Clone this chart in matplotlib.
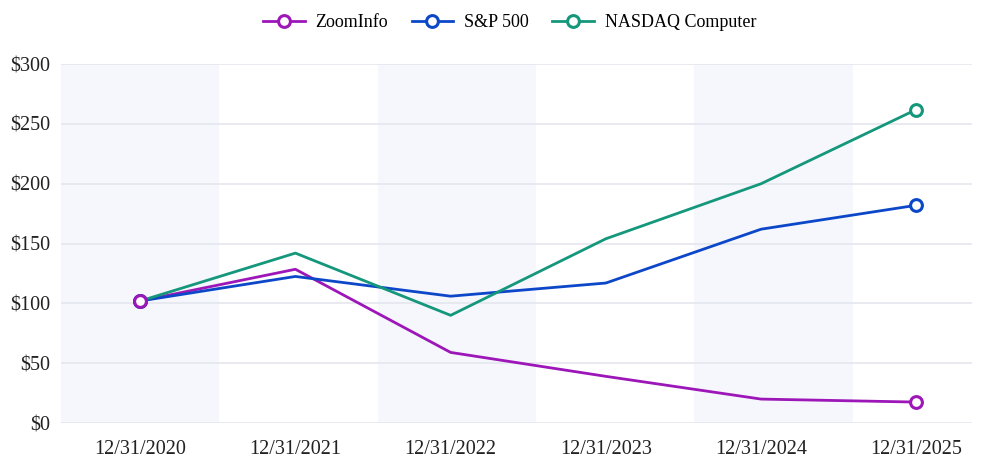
import matplotlib.pyplot as plt
from matplotlib.lines import Line2D

plt.rcParams['font.family'] = ['Liberation Serif', 'DejaVu Serif']

dates = ["12/31/2020", "12/31/2021", "12/31/2022", "12/31/2023", "12/31/2024", "12/31/2025"]
zoominfo = [102, 128.5, 59, 39, 20, 17.5]
sp500 = [102, 122.5, 106, 117, 162, 182]
nasdaq = [102, 142, 90, 154, 200, 262]
yticks = [0, 50, 100, 150, 200, 250, 300]

series = [("ZoomInfo", zoominfo, "#9C16B8"),
          ("S&P 500", sp500, "#0C47C8"),
          ("NASDAQ Computer", nasdaq, "#14977B")]

fig = plt.figure(figsize=(9.84, 4.61), dpi=100)
ax = fig.add_axes([0.062, 0.0824, 0.926, 0.7786])

x = list(range(len(dates)))
step = 1.02
for k in range(0, len(dates), 2):
    ax.axvspan(-0.51 + k * step, -0.51 + (k + 1) * step, color="#F6F7FC", lw=0, zorder=0)

for yv in yticks:
    ax.axhline(yv, color="#E6E8EF", lw=1.3, zorder=1)

handles = []
n = len(series)
for i, (name, vals, col) in enumerate(series):
    ax.plot(x, vals, color=col, lw=2.0, zorder=3)
    ax.plot([x[0], x[-1]], [vals[0], vals[-1]], ls="none", marker="o", ms=8.5,
            mfc="white", mec=col, mew=2.2, zorder=4 + n - i)
    handles.append(Line2D([], [], color=col, lw=2.0, marker="o", ms=8.5,
                          mfc="white", mec=col, mew=2.2, label=name))

ax.set_xlim(-0.51, 5.36)
ax.set_ylim(0, 300)
ax.set_yticks(yticks)
ax.set_yticklabels([f"${v}" for v in yticks])
ax.set_xticks(x)
ax.set_xticklabels(dates)
ax.tick_params(length=0, labelsize=14.5, colors="#222222")
ax.tick_params(axis="x", pad=12)
ax.tick_params(axis="y", pad=8)
for s in ax.spines.values():
    s.set_visible(False)

fig.legend(handles=handles, loc="upper center", bbox_to_anchor=(0.518, 1.005), ncol=3,
           frameon=False, fontsize=13, handlelength=2.3, columnspacing=1.3,
           handletextpad=0.6)

fig.savefig("out.png", dpi=100)
